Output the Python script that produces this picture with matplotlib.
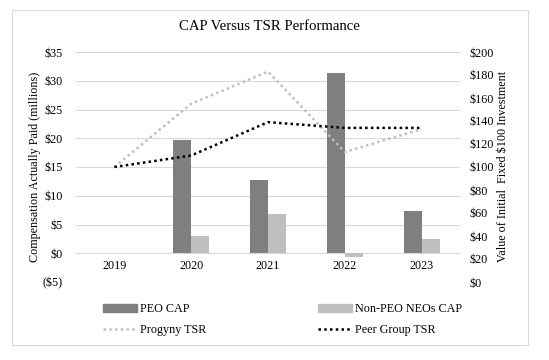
import numpy as np
import matplotlib.pyplot as plt
from matplotlib.patches import Rectangle, Patch
from matplotlib.lines import Line2D

# Data
years = ['2019', '2020', '2021', '2022', '2023']
peo_cap = [np.nan, 19.7, 12.7, 31.3, 7.3]
non_peo_cap = [np.nan, 3.0, 6.8, -0.6, 2.5]
progyny_tsr = [100, 155, 183, 113, 133]
peer_tsr = [100, 110, 139, 134, 134]
left_ticks = [-5, 0, 5, 10, 15, 20, 25, 30, 35]
right_ticks = [0, 20, 40, 60, 80, 100, 120, 140, 160, 180, 200]

plt.rcParams['font.family'] = ['Liberation Serif', 'DejaVu Serif']
FS = 8.7
W, H = 549, 360
dots = (0, (1, 1.3))

fig = plt.figure(figsize=(5.49, 3.6), dpi=100)
# outer border like the Excel chart area
fig.patches.append(Rectangle((11.5 / W, 1 - 345 / H), 516.5 / W, 335.5 / H,
                             transform=fig.transFigure, fill=False,
                             edgecolor='#d9d9d9', linewidth=0.8))

ax = fig.add_axes([76 / W, 1 - 282 / H, 384 / W, 230 / H])
x = np.arange(len(years))
w = 0.235
ax.bar(x - w / 2, peo_cap, w, color='#7f7f7f', zorder=2)
ax.bar(x + w / 2, non_peo_cap, w, color='#bfbfbf', zorder=2)
ax.set_ylim(-5, 35)
ax.set_xlim(-0.5, 4.5)
ax.set_yticks(left_ticks)
ax.set_yticklabels([f'${v}' if v >= 0 else f'(${-v})' for v in left_ticks], fontsize=FS)
ax.grid(axis='y', color='#d9d9d9', linewidth=0.8, zorder=0)
for s in ax.spines.values():
    s.set_visible(False)
ax.tick_params(axis='y', length=0, pad=9.4)
ax.set_xticks([])
for i, yr in enumerate(years):
    ax.text(i, -2.2, yr, ha='center', va='center', fontsize=FS)

ax2 = ax.twinx()
ax2.plot(x, progyny_tsr, color='#c0c0c0', linestyle=dots, linewidth=1.8, zorder=3)
ax2.plot(x, peer_tsr, color='black', linestyle=dots, linewidth=1.8, zorder=3)
ax2.set_ylim(0, 200)
ax2.set_yticks(right_ticks)
ax2.set_yticklabels([f'${v}' for v in right_ticks], fontsize=FS)
ax2.tick_params(axis='y', length=0, pad=6.5)
for s in ax2.spines.values():
    s.set_visible(False)

fig.text(35 / W, 1 - 167 / H, 'Compensation Actually Paid (millions)', rotation=90,
         ha='center', va='center', fontsize=FS)
fig.text(503 / W, 1 - 166 / H, 'Value of Initial  Fixed $100 Investment', rotation=90,
         ha='center', va='center', fontsize=FS)

fig.text(269 / W, 1 - 27 / H, 'CAP Versus TSR Performance', ha='center', va='center',
         fontsize=10.6)

# legend: two columns, placed separately
leg_kw = dict(frameon=False, fontsize=FS, loc='center left', handlelength=2.8,
              handleheight=0.6, labelspacing=0.67, handletextpad=0.25,
              borderaxespad=0)
fig.legend([Patch(color='#7f7f7f'),
            Line2D([], [], color='#c0c0c0', linestyle=dots, linewidth=1.8)],
           ['PEO CAP', 'Progyny TSR'],
           bbox_to_anchor=(98 / W, 1 - 319.5 / H), **leg_kw)
fig.legend([Patch(color='#bfbfbf'),
            Line2D([], [], color='black', linestyle=dots, linewidth=1.8)],
           ['Non-PEO NEOs CAP', 'Peer Group TSR'],
           bbox_to_anchor=(313 / W, 1 - 319.5 / H), **leg_kw)

fig.savefig('out.png', dpi=100)
